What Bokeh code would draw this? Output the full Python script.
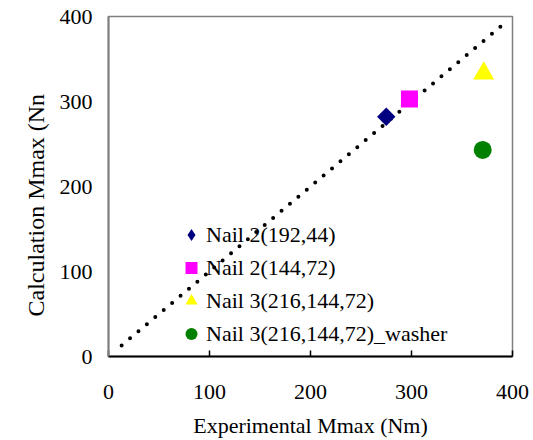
import math
from bokeh.plotting import figure
from bokeh.models import Range1d, FixedTicker, Legend, LegendItem, Title
from bokeh.embed import file_html
from bokeh.resources import INLINE

# ---- data ----
series_names = ["Nail 2(192,44)", "Nail 2(144,72)", "Nail 3(216,144,72)", "Nail 3(216,144,72)_washer"]
exp_mmax = [275, 298, 371.5, 370.5]
calc_mmax = [282, 303, 333, 243]
ref_line_x = [13, 390]
ref_line_y = [13, 390]
ticks = [0, 100, 200, 300, 400]
x_title = "Experimental Mmax (Nm)"
y_title = "Calculation Mmax (Nn"

markers = ["square", "square", "triangle", "circle"]
legend_markers = ["diamond", "square", "triangle", "circle"]
angles = [math.pi / 4, 0, 0, 0]
sizes = [13, 17, 21, 18]
colors = ["#000080", "#FF00FF", "#FFFF00", "#008000"]

FONT = "Liberation Serif"

p = figure(width=533, height=440, output_backend="svg", toolbar_location=None,
           x_range=Range1d(0, 400), y_range=Range1d(0, 400),
           min_border_left=108, min_border_right=21, min_border_top=16, min_border_bottom=84)

p.xgrid.visible = False
p.ygrid.visible = False
p.outline_line_color = "#808080"
p.outline_line_width = 1.5
p.background_fill_color = "white"

for ax in (p.xaxis[0], p.yaxis[0]):
    ax.ticker = FixedTicker(ticks=ticks)
    ax.minor_tick_line_color = None
    ax.major_label_text_font = FONT
    ax.major_label_text_font_size = "22px"
    ax.major_label_text_color = "black"

p.xaxis.axis_line_color = "black"
p.xaxis.axis_line_width = 2
p.xaxis.major_tick_line_color = "black"
p.xaxis.major_tick_line_width = 1.5
p.xaxis.major_tick_in = 6
p.xaxis.major_tick_out = 0
p.xaxis.major_label_standoff = 28
p.xaxis.axis_label = x_title
p.xaxis.axis_label_text_font = FONT
p.xaxis.axis_label_text_font_size = "22px"
p.xaxis.axis_label_text_font_style = "normal"
p.xaxis.axis_label_text_color = "black"
p.xaxis.axis_label_standoff = 11

p.yaxis.axis_line_color = "#808080"
p.yaxis.axis_line_width = 2
p.yaxis.major_tick_in = 0
p.yaxis.major_tick_out = 0
p.yaxis.major_tick_line_color = None
p.yaxis.major_label_standoff = 16

# y-axis title as a side title, anchored from the bottom like the reference
p.add_layout(Title(text=y_title, align="left", offset=40, standoff=16,
                   text_font=FONT, text_font_size="24px", text_font_style="normal",
                   text_color="black"), "left")

# 1:1 dotted reference line
p.line(ref_line_x, ref_line_y, line_color="black", line_width=4,
       line_dash="0 11", line_cap="round")

items = []
for i, name in enumerate(series_names):
    p.scatter([exp_mmax[i]], [calc_mmax[i]], marker=markers[i], size=sizes[i],
              angle=angles[i], fill_color=colors[i], line_color=None)
    # zero-size twin used only for the legend symbol shape
    lr = p.scatter([exp_mmax[i]], [calc_mmax[i]], marker=legend_markers[i], size=0,
                   fill_color=colors[i], line_color=None)
    items.append(LegendItem(label=name, renderers=[lr]))

legend = Legend(items=items, location=(68, 6), glyph_width=30, glyph_height=33,
                label_standoff=0, spacing=0, padding=0, margin=0,
                border_line_color=None, background_fill_alpha=0,
                label_text_font=FONT, label_text_font_size="22px", label_text_color="black")
p.add_layout(legend, "center")

open("out.html", "w").write(file_html(p, INLINE))
